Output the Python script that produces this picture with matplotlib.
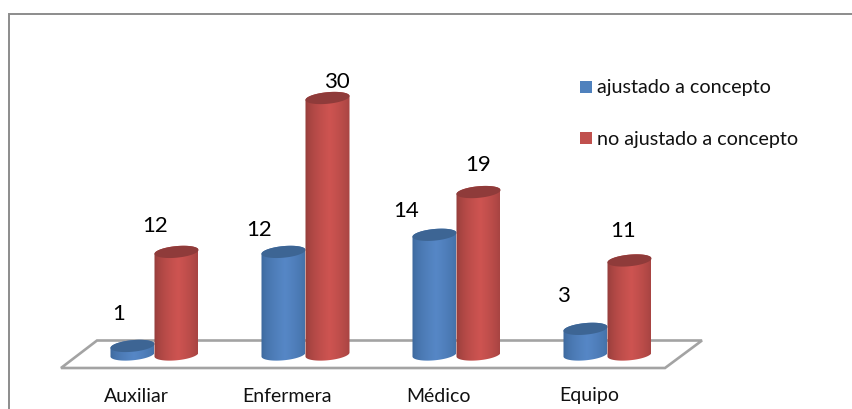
import matplotlib
matplotlib.use("Agg")
import matplotlib.pyplot as plt
import numpy as np
from matplotlib.colors import to_rgb
from matplotlib.patches import Polygon

categories = ["Auxiliar", "Enfermera", "Médico", "Equipo"]
ajustado = [1, 12, 14, 3]
no_ajustado = [12, 30, 19, 11]
series_names = ["ajustado a concepto", "no ajustado a concepto"]

# hand-placed value labels, offset from the top of each cylinder in pixels
ajustado_offsets = [(-13.5, 32), (-24.5, 22), (-28.5, 24), (-22.5, 33)]
no_ajustado_offsets = [(-21.5, 26), (9.5, 16.5), (0, 27.5), (-6.5, 29.5)]

WIDTH, HEIGHT = 852, 409
X0, X_STEP = 154.5, 151.0
Y0, Y_STEP = 354.5, 8.55
HALF_W = 22.0
OFFSET = 22 / X_STEP
TILT = 0.09
FONT = ["Lato", "DejaVu Sans"]
BLUE = ("#3a6598", "#5687c6", "#3d6594")
RED = ("#8e3a38", "#ce5451", "#8f3b3a")


def px(x, y):
    # canvas pixel position to data units
    return (x - X0) / X_STEP, (Y0 - y) / Y_STEP


def rim(x, value, start, stop, n=60):
    # arc of a tilted ellipse around the cylinder axis
    t = np.linspace(start, stop, n)
    ex = HALF_W * np.cos(t)
    ey = 5.8 * np.sin(t) + ex * TILT
    return x + ex / X_STEP, value + ey / Y_STEP


def cylinder(ax, x, value, colors, z):
    low_x, low_y = rim(x, 0, np.pi, 2 * np.pi)
    top_x, top_y = rim(x, value, 0, np.pi)
    outline = np.column_stack([np.r_[low_x, top_x], np.r_[low_y, top_y]])
    body = Polygon(outline, closed=True, fc="none", ec="none")
    ax.add_patch(body)

    stops = np.linspace(0, 1, 120)
    edge = np.array(to_rgb(colors[0]))
    light = np.array(to_rgb(colors[1]))
    weight = np.clip(1 - np.abs(stops - 0.55) / 0.55, 0, 1) ** 0.55
    shade = edge + (light - edge) * weight[:, None]
    half = HALF_W / X_STEP
    im = ax.imshow(shade[None, :, :], extent=(x - half, x + half, -3, value + 3),
                   aspect="auto", interpolation="bilinear", zorder=z)
    im.set_clip_path(body)

    cap_x, cap_y = rim(x, value, 0, 2 * np.pi, 120)
    ax.fill(cap_x, cap_y, color=colors[2], lw=0, zorder=z + 0.5)


fig = plt.figure(figsize=(WIDTH / 100, HEIGHT / 100), dpi=100)
ax = fig.add_axes([0, 0, 1, 1])
ax.axis("off")

# chart frame, cut off on the right and at the bottom
frame = [px(9, 409), px(9, 13.5), px(852, 13.5)]
ax.plot(*zip(*frame), color="#8c8c8c", lw=1.4, zorder=1, solid_joinstyle="miter")

# floor of the 3D plot
floor = [px(61, 368), px(665, 368), px(702, 340.5), px(97, 340.5)]
ax.add_patch(Polygon(floor, closed=True, fc="white", ec="#a3a3a3", lw=1.9, zorder=2))

for i, name in enumerate(categories):
    cylinder(ax, i - OFFSET, ajustado[i], BLUE, 5 + 2 * i)
    cylinder(ax, i + OFFSET, no_ajustado[i], RED, 6 + 2 * i)
    ax.text(*px(X0 + X_STEP * i - 18, 396), name, family=FONT, fontsize=14,
            color="#111111", ha="center", va="center", zorder=50)

for i, v in enumerate(ajustado):
    dx, dy = ajustado_offsets[i]
    ax.annotate(str(v), (i - OFFSET, v), xytext=(dx * 0.72, dy * 0.72), textcoords="offset points",
                family=FONT, fontsize=16, color="black", ha="center", va="center", zorder=50)
for i, v in enumerate(no_ajustado):
    dx, dy = no_ajustado_offsets[i]
    ax.annotate(str(v), (i + OFFSET, v), xytext=(dx * 0.72, dy * 0.72), textcoords="offset points",
                family=FONT, fontsize=16, color="black", ha="center", va="center", zorder=50)

# legend
for name, col, y in zip(series_names, ("#4f81bd", "#c0504d"), (87, 138)):
    ax.add_patch(Polygon([px(580, y - 6), px(592, y - 6), px(592, y + 6), px(580, y + 6)],
                         closed=True, fc=col, ec="none", zorder=50))
    ax.text(*px(597, y + 1), name, family=FONT, fontsize=14.2, color="#111111",
            ha="left", va="center", zorder=50)

ax.set_xlim((0 - X0) / X_STEP, (WIDTH - X0) / X_STEP)
ax.set_ylim((Y0 - HEIGHT) / Y_STEP, Y0 / Y_STEP)

fig.savefig("out.png", dpi=100)
